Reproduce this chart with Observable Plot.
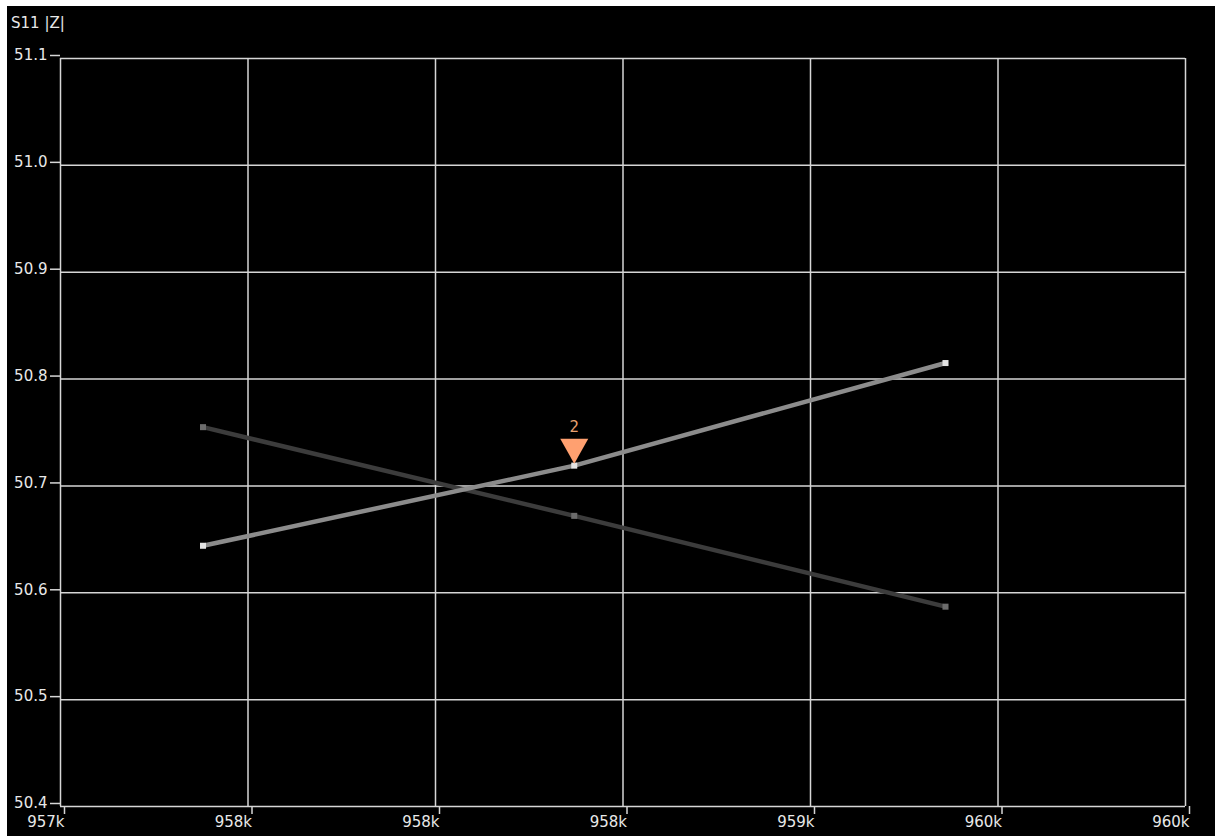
<!DOCTYPE html>
<html>
<head>
<meta charset="utf-8">
<script src="https://cdn.jsdelivr.net/npm/d3@7"></script>
<script src="https://cdn.jsdelivr.net/npm/@observablehq/plot@0.6"></script>
<style>
  html, body { margin: 0; padding: 0; background: #ffffff; }
  #wrap { position: absolute; left: 7px; top: 6px; width: 1208px; height: 830px; background: #000; overflow: hidden; }
  #title { position: absolute; left: 4px; top: 8px; color: #e8e8e8; font: 15px "DejaVu Sans", sans-serif; }
  #chart { position: absolute; left: 0; top: 0; }
</style>
</head>
<body>
<div id="wrap">
  <div id="chart"></div>
  <div id="title">S11 |Z|</div>
</div>
<script>
// Frequencies (Hz) of the three sweep points
const freqs = [957380, 958370, 959360];
// Current trace (light grey)
const traceLight = [50.644, 50.719, 50.815];
// Memory / previous trace (dark grey)
const traceDark = [50.755, 50.672, 50.587];
// Axis ticks and labels
const xTicks = [957000, 957500, 958000, 958500, 959000, 959500, 960000];
const xTickLabels = ["957k", "958k", "958k", "958k", "959k", "960k", "960k"];
const yTicks = [50.4, 50.5, 50.6, 50.7, 50.8, 50.9, 51.0, 51.1];
// Marker
const markerIndex = [1];
const markerLabels = ["2"];

const xLabelMap = new Map(xTicks.map((t, i) => [t, xTickLabels[i]]));
const lightRows = freqs.map((f, i) => ({f, v: traceLight[i]}));
const darkRows = freqs.map((f, i) => ({f, v: traceDark[i]}));
const markerRows = markerIndex.map((k, i) => ({f: freqs[k], v: traceLight[k], label: markerLabels[i]}));

const downTriangle = {
  draw(ctx) {
    ctx.moveTo(-14, -25);
    ctx.lineTo(14, -25);
    ctx.lineTo(0, 0);
    ctx.closePath();
  }
};

const gridColor = "#d6d6d6";

const chart = Plot.plot({
  width: 1208,
  height: 830,
  marginLeft: 53,
  marginRight: 30,
  marginTop: 52,
  marginBottom: 30,
  style: {background: "#000", color: "#e8e8e8", fontFamily: "DejaVu Sans, sans-serif", fontSize: "15px"},
  x: {domain: [957000, 960000]},
  y: {domain: [50.4, 51.1]},
  marks: [
    Plot.gridX(xTicks, {stroke: gridColor, strokeOpacity: 1, strokeWidth: 1.5}),
    Plot.gridY(yTicks, {stroke: gridColor, strokeOpacity: 1, strokeWidth: 1.5}),
    Plot.axisY(yTicks, {label: null, tickSize: 10, tickPadding: 3, dy: -3, stroke: gridColor, strokeWidth: 1.5, fill: "#e8e8e8", tickFormat: d3.format(".1f")}),
    Plot.axisX(xTicks, {label: null, tickSize: 8, tickPadding: 2, textAnchor: "end", dx: 4, stroke: gridColor, strokeWidth: 1.5, fill: "#e8e8e8", tickFormat: d => xLabelMap.get(d)}),
    Plot.line(darkRows, {x: "f", y: "v", stroke: "#3c3c3c", strokeWidth: 4.5}),
    Plot.line(lightRows, {x: "f", y: "v", stroke: "#8c8c8c", strokeWidth: 4.5}),
    Plot.dot(darkRows, {x: "f", y: "v", symbol: "square", r: 3.4, fill: "#6c6c6c", stroke: null}),
    Plot.dot(lightRows, {x: "f", y: "v", symbol: "square", r: 3.4, fill: "#e4e4e4", stroke: null}),
    Plot.dot(markerRows, {x: "f", y: "v", symbol: downTriangle, r: 5, fill: "#ffa070", stroke: null, dy: -2}),
    Plot.text(markerRows, {x: "f", y: "v", text: "label", dy: -38, fill: "#e8a070", fontSize: 15})
  ]
});
document.getElementById("chart").appendChild(chart);
</script>
</body>
</html>
